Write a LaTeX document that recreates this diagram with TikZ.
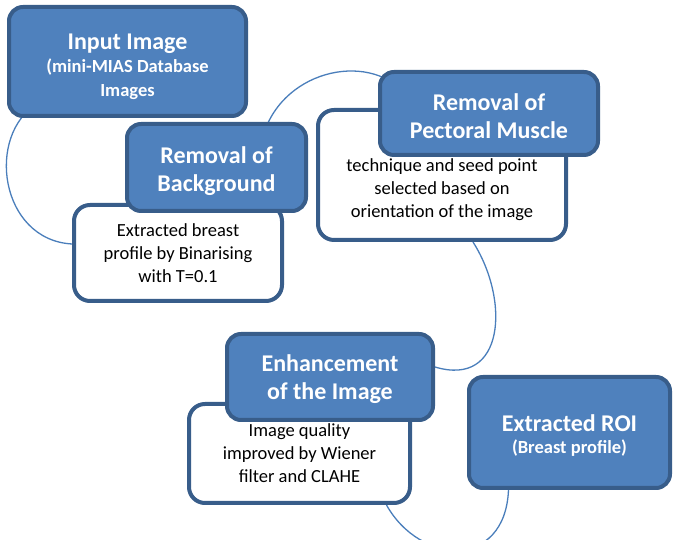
\documentclass[tikz,border=0pt]{standalone}
\usepackage{fontspec}
\setmainfont{Carlito}
\usepackage{tikz}
\usetikzlibrary{backgrounds}
\definecolor{boxblue}{RGB}{79,129,189}
\definecolor{boxedge}{RGB}{56,93,138}
\definecolor{linkblue}{RGB}{74,126,187}
\newcommand{\smallbold}{\fontsize{18.5}{22}\selectfont}

\begin{document}
\begin{tikzpicture}[x=1pt, y=1pt,
    headbox/.style={draw=boxedge, line width=4pt, fill=boxblue, rounded corners=14pt, inner sep=0pt},
    headtext/.style={text=white, font=\bfseries\fontsize{24}{28}\selectfont, align=center, inner sep=0pt},
    notebox/.style={draw=boxedge, line width=4pt, fill=white, rounded corners=16pt,
        font=\fontsize{18.5}{23}\selectfont, align=center, inner sep=0pt},
    notetext/.style={font=\fontsize{18.5}{23}\selectfont, align=center, inner sep=0pt},
    link/.style={linkblue, line width=1.3pt}]
    \useasboundingbox (0,0) rectangle (673,540);

    % Input
    \node[headbox, minimum width=237, minimum height=109] (input) at (127.5,478.5) {};
    \node[headtext] (inputtext) at ([yshift=-5pt]input.center)
        {Input Image\\[-5pt]\smallbold (mini-MIAS Database\\[-4pt] \smallbold Images};

    % Background
    \node[notebox, minimum width=208, minimum height=96] (bgnote) at (178,287)
        {Extracted breast\\ profile by Binarising\\ with T=0.1};
    \node[headbox, minimum width=179, minimum height=87] (bghead) at (216.5,372.5) {};
    \node[headtext] (bgheadtext) at ([yshift=-4pt]bghead.center)
        {Removal of\\ Background};

    % Pectoral muscle
    \node[notebox, minimum width=248, minimum height=130] (pectnote) at (442,365) {};
    \node[notetext] (pecttext) at ([yshift=-15pt]pectnote.center)
        {technique and seed point\\ selected based on\\ orientation of the image};
    \node[headbox, minimum width=218, minimum height=83] (pecthead) at (489,426.5) {};
    \node[headtext] (pectheadtext) at ([yshift=-3pt]pecthead.center)
        {Removal of\\ Pectoral Muscle};

    % Enhancement
    \node[notebox, minimum width=221, minimum height=99] (enhnote) at (299.5,86.5)
        {Image quality\\ improved by Wiener\\ filter and CLAHE};
    \node[headbox, minimum width=206, minimum height=86] (enhhead) at (330,163) {};
    \node[headtext] (enhheadtext) at ([yshift=-2pt]enhhead.center)
        {Enhancement\\ of the Image};

    % Result
    \node[headbox, minimum width=201, minimum height=111] (roi) at (569.5,107.5) {};
    \node[headtext] (roitext) at ([yshift=-3pt]roi.center)
        {Extracted ROI\\[-6pt]\smallbold (Breast profile)};

    % Connecting arcs
    \begin{scope}[on background layer]
        \draw[link] ([shift={(31pt,15pt)}]input.south west) .. controls (-15,405) and (0,300) .. ([yshift=9pt]bgnote.west);
        \draw[link] ([shift={(44pt,20pt)}]bghead.center) .. controls (272,465) and (360,490) .. ([shift={(24pt,-20pt)}]pecthead.north west);
        \draw[link] ([xshift=31pt]pectnote.south) .. controls (510,240) and (505,152) .. ([yshift=10pt]enhhead.east);
        \draw[link] ([xshift=87pt]enhnote.south) .. controls (420,-25) and (505,-30) .. ([xshift=-61pt]roi.south);
    \end{scope}
\end{tikzpicture}
\end{document}
